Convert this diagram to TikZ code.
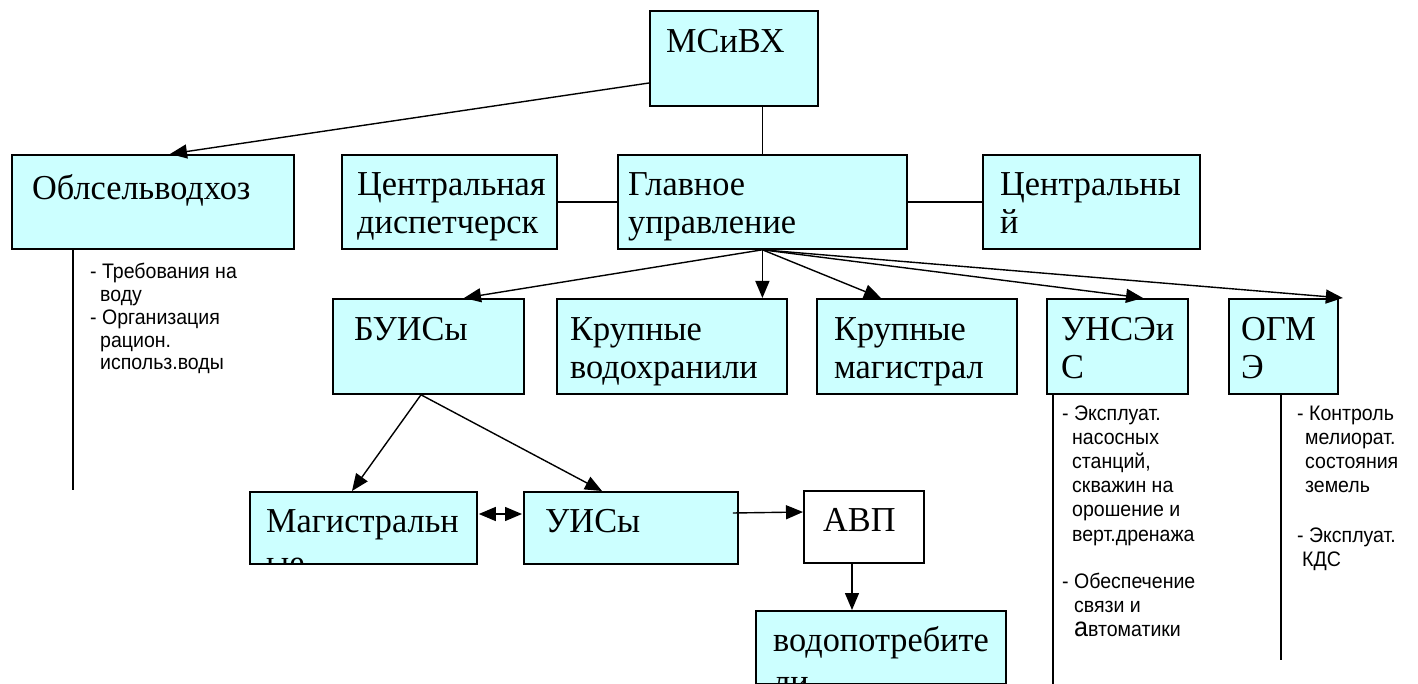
\documentclass[tikz,border=0pt]{standalone}
\usepackage{fontspec}
\setmainfont{Liberation Serif}
\newfontfamily\boxfont[FakeStretch=0.98]{Liberation Serif}
\newfontfamily\annfont[FakeStretch=0.93]{Liberation Sans}
\usetikzlibrary{arrows.meta,calc}
\definecolor{boxcyan}{HTML}{CCFFFF}
\newcommand{\ind}[1]{\hspace*{#1pt}}
\begin{document}
\begin{tikzpicture}[x=1pt,y=-1pt,
  box/.style={draw=black, line width=1.8pt, fill=boxcyan, rectangle, inner sep=0pt, anchor=north west},
  wbox/.style={box, fill=white},
  conn/.style={line width=1.4pt},
  tip/.tip={Triangle[length=17pt,width=14pt]},
  arr/.style={conn, -tip},
  darr/.style={conn, tip-tip},
  btxt/.style={anchor=base west, inner sep=0pt, font=\boxfont\fontsize{35}{38}\selectfont},
  ann/.style={anchor=base west, inner sep=0pt, font=\annfont\fontsize{21}{24.2}\selectfont},
  annl/.style={ann, font=\annfont\fontsize{21}{22.7}\selectfont},
]
\useasboundingbox (0,0) rectangle (1418,684);

% boxes
\node[box, minimum width=168pt, minimum height=95pt] (msivh) at (649,10) {};
\node[box, minimum width=282pt, minimum height=94pt] (obl) at (11,154) {};
\node[box, minimum width=215pt, minimum height=94pt] (cdisp) at (341,154) {};
\node[box, minimum width=289pt, minimum height=94pt] (glav) at (617,154) {};
\node[box, minimum width=217pt, minimum height=94pt] (centr) at (982,154) {};
\node[box, minimum width=191pt, minimum height=95pt] (buis) at (332,298) {};
\node[box, minimum width=230pt, minimum height=95pt] (kvod) at (556,298) {};
\node[box, minimum width=200pt, minimum height=95pt] (kmag) at (816,298) {};
\node[box, minimum width=141pt, minimum height=95pt] (unse) at (1046,298) {};
\node[box, minimum width=109pt, minimum height=95pt] (ogme) at (1228,298) {};
\node[box, minimum width=227pt, minimum height=72pt] (magis) at (249,491) {};
\node[box, minimum width=214pt, minimum height=72pt] (uis) at (523,491) {};
\node[wbox, minimum width=120pt, minimum height=72pt] (avp) at (803,490) {};
\node[box, minimum width=250pt, minimum height=73pt] (vodop) at (755,610) {};

% box texts
\node[btxt] (t-msivh) at ($(msivh.north west)+(17,43)$) {МСиВХ};
\node[btxt] (t-obl) at ($(obl.north west)+(21,46)$) {Облсельводхоз};
\node[btxt] (t-cdisp) at ($(cdisp.north west)+(16,42)$) {\parbox[t]{300pt}{\raggedright Центральная\\диспетчерск}};
\node[btxt] (t-glav) at ($(glav.north west)+(11,42)$) {\parbox[t]{300pt}{\raggedright Главное\\управление}};
\node[btxt] (t-centr) at ($(centr.north west)+(18,42)$) {\parbox[t]{300pt}{\raggedright Центральны\\й}};
\node[btxt] (t-buis) at ($(buis.north west)+(22,43)$) {БУИСы};
\node[btxt] (t-kvod) at ($(kvod.north west)+(14,43)$) {\parbox[t]{300pt}{\raggedright Крупные\\водохранили}};
\node[btxt] (t-kmag) at ($(kmag.north west)+(18,43)$) {\parbox[t]{300pt}{\raggedright Крупные\\магистрал}};
\node[btxt] (t-unse) at ($(unse.north west)+(15,43)$) {\parbox[t]{300pt}{\raggedright УНСЭи\\С}};
\node[btxt] (t-ogme) at ($(ogme.north west)+(13,43)$) {\parbox[t]{300pt}{\raggedright ОГМ\\Э}};
\begin{scope}
  \clip ($(magis.north west)+(1,1)$) rectangle ($(magis.south east)+(-1,-1)$);
  \node[btxt, font=\boxfont\fontsize{35}{42}\selectfont] (t-magis) at ($(magis.north west)+(17,41)$) {\parbox[t]{300pt}{\raggedright Магистральн\\ые}};
\end{scope}
\node[btxt] (t-uis) at ($(uis.north west)+(22,41)$) {УИСы};
\node[btxt] (t-avp) at ($(avp.north west)+(20,41)$) {АВП};
\begin{scope}
  \clip ($(vodop.north west)+(1,1)$) rectangle ($(vodop.south east)+(-1,-1)$);
  \node[btxt, font=\boxfont\fontsize{35}{42}\selectfont] (t-vodop) at ($(vodop.north west)+(18,41)$) {\parbox[t]{300pt}{\raggedright водопотребите\\ли}};
\end{scope}

% connectors
\coordinate (msout) at ($(msivh.north west)+(0,73)$);
\coordinate (oblin) at ($(obl.north west)+(159,0)$);
\draw[arr] (msout) -- (oblin);
\draw[conn] (glav.north |- msivh.south) -- (glav.north);
\draw[conn] (cdisp.east) -- (glav.west);
\draw[conn] (glav.east) -- (centr.west);
\coordinate (buisin) at ($(buis.north west)+(132,0)$);
\coordinate (kmagin) at ($(kmag.north west)+(65,0)$);
\coordinate (unsein) at ($(unse.north west)+(97,0)$);
\coordinate (ogmein) at ($(ogme.north east)+(4,0)$);
\draw[arr] (glav.south) -- (buisin);
\draw[arr] (glav.south) -- (glav.south |- kvod.north);
\draw[arr] (glav.south) -- (kmagin);
\draw[arr] (glav.south) -- (unsein);
\draw[arr] (glav.south) -- (ogmein);
\coordinate (buisout) at ($(buis.south west)+(89,0)$);
\coordinate (magisin) at ($(magis.north west)+(103,0)$);
\coordinate (uisin) at ($(uis.north west)+(79,0)$);
\draw[arr] (buisout) -- (magisin);
\draw[arr] (buisout) -- (uisin);
\coordinate (magisr) at ($(magis.north east)+(1,23)$);
\coordinate (uisl) at ($(uis.north west)+(-1,23)$);
\draw[darr] (magisr) -- (uisl);
\coordinate (uisr) at ($(uis.north east)+(-6,22)$);
\coordinate (avpl) at ($(avp.north west)+(0,22)$);
\draw[arr] (uisr) -- (avpl);
\coordinate (avpout) at ($(avp.south west)+(49,0)$);
\draw[arr] (avpout) -- (avpout |- vodop.north);

% side lines
\coordinate (oblend) at (73,490);
\coordinate (unseend) at (1053,684);
\coordinate (ogmeend) at (1281,660);
\draw[conn] (oblend |- obl.south) -- (oblend);
\draw[conn] (unseend |- unse.south) -- (unseend);
\draw[conn] (ogmeend |- ogme.south) -- (ogmeend);

% annotations
\node[annl] (a-obl) at (90,279) {\parbox[t]{200pt}{\raggedright - Требования на\\\ind{10}воду\\- Организация\\\ind{10}рацион.\\\ind{10}использ.воды}};
\node[ann] (a-unse1) at (1062,420) {\parbox[t]{200pt}{\raggedright - Эксплуат.\\\ind{10}насосных\\\ind{10}станций,\\\ind{10}скважин на\\\ind{10}орошение и\\\ind{10}верт.дренажа}};
\node[ann] (a-unse2) at (1062,588) {\parbox[t]{200pt}{\raggedright - Обеспечение\\\ind{12}связи и\\\ind{12}{\fontsize{27}{27}\selectfont а}втоматики}};
\node[ann] (a-ogme1) at (1297,420) {\parbox[t]{200pt}{\raggedright - Контроль\\\ind{8}мелиорат.\\\ind{8}состояния\\\ind{8}земель}};
\node[ann] (a-ogme2) at (1297,542) {\parbox[t]{200pt}{\raggedright - Эксплуат.\\\ind{5}КДС}};
\end{tikzpicture}
\end{document}
